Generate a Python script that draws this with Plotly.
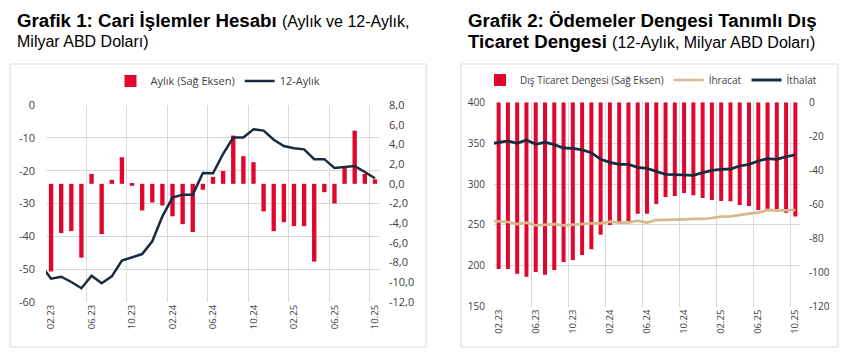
import plotly.graph_objects as go

W, H = 859, 363

# ---------------- data ----------------
months = ["01.23", "02.23", "03.23", "04.23", "05.23", "06.23", "07.23", "08.23", "09.23", "10.23",
          "11.23", "12.23", "01.24", "02.24", "03.24", "04.24", "05.24", "06.24", "07.24", "08.24",
          "09.24", "10.24", "11.24", "12.24", "01.25", "02.25", "03.25", "04.25", "05.25", "06.25",
          "07.25", "08.25", "09.25", "10.25"]

# Grafik 1 (02.23 - 10.25 for bars; line from 01.23)
aylik = [-8.9, -5.0, -4.8, -7.5, 1.0, -5.1, 0.4, 2.7, -0.2, -2.7, -1.9, -2.2, -3.3, -4.1, -4.9,
         -0.6, 0.7, 1.3, 4.9, 2.8, 2.2, -2.8, -4.8, -3.9, -4.3, -4.3, -7.9, -0.85, -2.0, 1.6,
         5.4, 1.0, 0.45]
yillik12 = [-48.7, -52.9, -52.3, -53.9, -55.8, -52.0, -54.3, -52.2, -47.4, -46.5, -45.4, -41.5,
            -33.9, -28.2, -27.3, -27.3, -20.7, -20.8, -14.9, -9.9, -9.9, -7.4, -7.8, -10.6,
            -12.5, -13.2, -13.5, -16.5, -16.5, -19.2, -18.9, -18.6, -20.4, -22.3]

# Grafik 2
dis_ticaret = [-97.9, -97.9, -100.6, -102.4, -99.6, -101.2, -98.5, -93.8, -92.6, -89.7, -86.3,
               -77.7, -72.0, -70.9, -69.9, -65.4, -65.4, -59.7, -55.6, -55.0, -53.2, -54.6,
               -56.2, -57.3, -57.9, -58.1, -60.3, -60.9, -63.2, -62.6, -62.6, -64.8, -67.1]
ihracat = [255.0, 254.5, 253.6, 251.1, 252.8, 249.5, 250.3, 251.1, 249.5, 250.3, 252.0, 252.0,
           252.0, 254.0, 252.8, 252.8, 255.2, 252.8, 256.0, 256.0, 256.0, 256.9, 257.3, 257.3,
           258.5, 260.1, 260.5, 262.6, 263.8, 265.0, 268.3, 267.5, 268.3, 268.3]
ithalat = [349.0, 350.6, 352.7, 349.8, 353.9, 348.6, 351.1, 348.2, 344.1, 343.7, 341.7, 338.4,
           330.3, 326.6, 324.1, 324.1, 320.5, 319.2, 316.0, 311.9, 311.5, 310.7, 310.7, 313.9,
           316.8, 318.0, 318.4, 322.1, 324.1, 328.2, 331.1, 330.3, 333.5, 335.6]

g1_left_ticks = [0, -10, -20, -30, -40, -50, -60]
g1_right_ticks = [8, 6, 4, 2, 0, -2, -4, -6, -8, -10, -12]
g2_left_ticks = [400, 350, 300, 250, 200, 150]
g2_right_ticks = [0, -20, -40, -60, -80, -100, -120]
label_step = 4

# ---------------- derived positions ----------------
x_line = [i - 1 for i in range(len(months))]          # 01.23 -> -1 (clipped at plot edge)
x_bar = x_line[1:]                                     # 02.23 -> 0
n = len(x_bar)
tickvals = x_bar[::label_step]
ticktext = months[1:][::label_step]
bounds = [v - 0.5 for v in tickvals]

RED = "#E1062C"
NAVY = "#1B2B3F"
TAN = "#D6B98C"
GRID = "#D9D9D9"
TXT = "#404040"
FONT = "Open Sans"

def px_x(p):
    return p / W

def px_y(p):
    return 1 - p / H

fig = go.Figure()

# Chart 1: bars on base (right) axis, line on overlaying (left) axis
fig.add_trace(go.Bar(x=x_bar, y=aylik, name="Aylık (Sağ Eksen)", marker_color=RED,
                     marker_line_width=0, xaxis="x", yaxis="y", legend="legend"))
fig.add_trace(go.Scatter(x=x_line, y=yillik12, name="12-Aylık", mode="lines",
                         line=dict(color=NAVY, width=2.5), xaxis="x", yaxis="y2", legend="legend"))

# Chart 2
fig.add_trace(go.Bar(x=x_bar, y=dis_ticaret, name="Dış Ticaret Dengesi (Sağ Eksen)", marker_color=RED,
                     marker_line_width=0, xaxis="x2", yaxis="y3", legend="legend2"))
fig.add_trace(go.Scatter(x=x_line, y=ihracat, name="İhracat", mode="lines",
                         line=dict(color=TAN, width=2.7), xaxis="x2", yaxis="y4", legend="legend2"))
fig.add_trace(go.Scatter(x=x_line, y=ithalat, name="İthalat", mode="lines",
                         line=dict(color=NAVY, width=2.8), xaxis="x2", yaxis="y4", legend="legend2"))

c1x = [px_x(46), px_x(380)]
c1y = [px_y(302), px_y(105)]
c2x = [px_x(494), px_x(800)]
c2y = [px_y(306.7), px_y(102.3)]

xcommon = dict(range=[-0.5, n - 0.5], tickmode="array", tickvals=tickvals, ticktext=ticktext,
               tickangle=-90, showgrid=False, zeroline=False, showline=False, ticks="",
               automargin=False,
               tickfont=dict(family=FONT, size=9.5, color=TXT),
               minor=dict(tickmode="array", tickvals=bounds, showgrid=True, gridcolor=GRID, gridwidth=1))

def fmt1(v):
    return f"{v:.1f}".replace(".", ",")

fig.update_layout(
    width=W, height=H, margin=dict(l=0, r=0, t=0, b=0, autoexpand=False),
    paper_bgcolor="white", plot_bgcolor="white",
    bargap=0.57, showlegend=True,
    xaxis=dict(domain=c1x, anchor="y", **xcommon),
    yaxis=dict(domain=c1y, anchor="x", side="right", range=[-12, 8], tickmode="array",
               tickvals=g1_right_ticks, ticktext=[fmt1(v) for v in g1_right_ticks],
               showgrid=False, zeroline=False, ticks="", ticklabelstandoff=8, automargin=False,
               tickfont=dict(family=FONT, size=11, color=TXT)),
    yaxis2=dict(overlaying="y", anchor="x", side="left", range=[-60, 0], tickmode="array",
                tickvals=g1_left_ticks, ticktext=[str(v) for v in g1_left_ticks],
                showgrid=True, gridcolor=GRID, zeroline=False, ticks="", ticklabelstandoff=10,
                automargin=False, tickfont=dict(family=FONT, size=11, color=TXT)),
    xaxis2=dict(domain=c2x, anchor="y3", **xcommon),
    yaxis3=dict(domain=c2y, anchor="x2", side="right", range=[-120, 0], tickmode="array",
                tickvals=g2_right_ticks, ticktext=[str(v) for v in g2_right_ticks],
                showgrid=False, zeroline=False, ticks="", ticklabelstandoff=8, automargin=False,
                tickfont=dict(family=FONT, size=10, color=TXT)),
    yaxis4=dict(overlaying="y3", anchor="x2", side="left", range=[150, 400], tickmode="array",
                tickvals=g2_left_ticks, ticktext=[str(v) for v in g2_left_ticks],
                showgrid=True, gridcolor=GRID, zeroline=False, ticks="", ticklabelstandoff=8,
                automargin=False, tickfont=dict(family=FONT, size=10, color=TXT)),
    legend=dict(orientation="h", x=px_x(218), xanchor="center", y=px_y(81), yanchor="middle",
                font=dict(family=FONT, size=11, color=TXT), bgcolor="rgba(0,0,0,0)",
                itemwidth=30, traceorder="normal", tracegroupgap=0),
    legend2=dict(orientation="h", x=px_x(651), xanchor="center", y=px_y(80), yanchor="middle",
                 font=dict(family=FONT, size=10, color=TXT), bgcolor="rgba(0,0,0,0)",
                 itemwidth=30, traceorder="normal"),
)

# frames
for (x0, x1) in [(10, 426), (461, 838)]:
    fig.add_shape(type="rect", xref="paper", yref="paper", x0=px_x(x0), x1=px_x(x1),
                  y0=px_y(347), y1=px_y(64), line=dict(color=GRID, width=1), fillcolor="rgba(0,0,0,0)")

TF = "Liberation Sans"
def title(x, y, text):
    fig.add_annotation(xref="paper", yref="paper", x=px_x(x), y=px_y(y), xanchor="left",
                       yanchor="middle", showarrow=False, align="left", text=text,
                       font=dict(family=TF, size=18.7, color="#000000"))

title(15, 20, "<b>Grafik 1: Cari İşlemler Hesabı</b> <span style='font-size:16px'>(Aylık ve 12-Aylık,</span>")
title(15, 41, "<span style='font-size:16px'>Milyar ABD Doları)</span>")
title(466, 20, "<b>Grafik 2: Ödemeler Dengesi Tanımlı Dış</b>")
title(466, 41, "<b>Ticaret Dengesi</b> <span style='font-size:16px'>(12-Aylık, Milyar ABD Doları)</span>")

fig.write_html("out.html", config={"displayModeBar": False},
               post_script="document.body.style.margin='0';document.body.style.overflow='hidden';")
